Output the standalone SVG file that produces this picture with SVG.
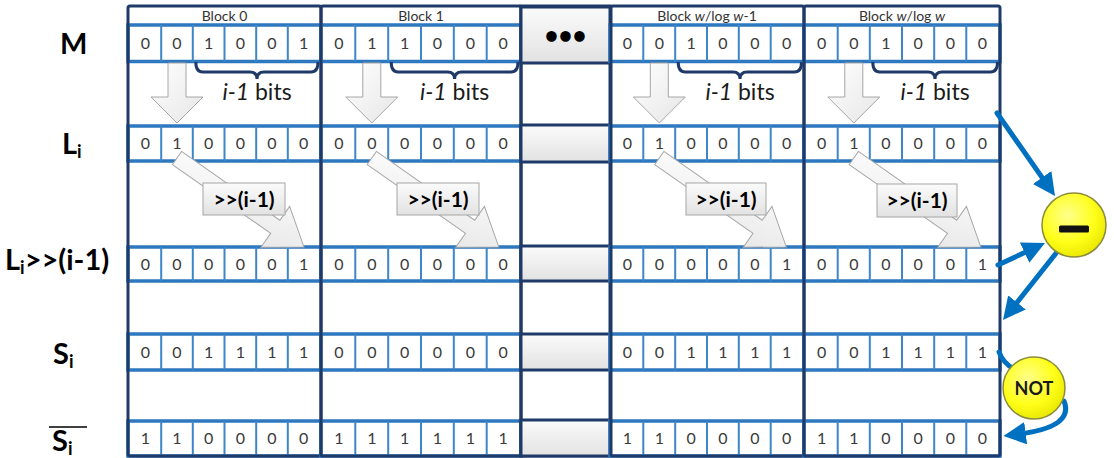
<svg xmlns="http://www.w3.org/2000/svg" xmlns:xlink="http://www.w3.org/1999/xlink" width="1114" height="458" viewBox="0 0 1114 458">
<defs>
<linearGradient id="gGray" x1="0" y1="0" x2="0" y2="1"><stop offset="0" stop-color="#fbfbfb"/><stop offset="1" stop-color="#e2e2e2"/></linearGradient>
<linearGradient id="gArrow" x1="0" y1="0" x2="1" y2="1"><stop offset="0" stop-color="#ffffff"/><stop offset="1" stop-color="#e6e6e6"/></linearGradient>
<radialGradient id="gYel" cx="0.4" cy="0.35" r="0.7"><stop offset="0" stop-color="#ffff8c"/><stop offset="0.6" stop-color="#ffff1a"/><stop offset="1" stop-color="#e6e600"/></radialGradient>
<marker id="ah" viewBox="0 0 10 10" refX="3" refY="5" markerWidth="4.5" markerHeight="4.5" orient="auto"><path d="M0 0L10 5L0 10Z" fill="#0070c0"/></marker>
<path id="down" d="M-9 0H9V34H26L0 60L-26 34H-9Z"/>
<path id="diag" d="M0 -8H120V-25L155 0L120 25V8H0Z"/>
<style>
.frame{fill:none;stroke:#1f3a68;stroke-width:3}
.row{fill:#fff;stroke:#2e78c0;stroke-width:3.5}
.sep{fill:none;stroke:#3d86c8;stroke-width:2;stroke-dasharray:36.5 64.5 35 86 34 53 36 51 35 100}
.mid{fill:url(#gGray);stroke:#1f3a68;stroke-width:3}
.d{font-family:Lato,"Open Sans",sans-serif;font-size:16px;fill:#3a3a3a;text-anchor:middle}
.hd{font-family:Lato,"Open Sans",sans-serif;font-size:14px;fill:#333;text-anchor:middle}
.lab{font-family:Lato,"Open Sans",sans-serif;font-weight:bold;font-size:29px;fill:#000}
.sub{font-size:18px}
.bits{font-family:Lato,"Open Sans",sans-serif;font-size:23px;fill:#1a1a1a;text-anchor:middle}
.brace{fill:none;stroke:#1f3a68;stroke-width:3}
.ga{fill:url(#gArrow);stroke:#a6a6a6;stroke-width:1}
.box{fill:url(#gGray);stroke:#a6a6a6;stroke-width:1}
.bt{font-family:Lato,"Open Sans",sans-serif;font-weight:bold;font-size:21px;fill:#000;text-anchor:middle}
.con{fill:none;stroke:#0070c0;stroke-width:5;stroke-linecap:round;marker-end:url(#ah)}
.con2{fill:none;stroke:#0070c0;stroke-width:5;stroke-linecap:round}
.op{fill:url(#gYel);stroke:#8c8c3c;stroke-width:1.5}
.opt{font-family:Lato,"Open Sans",sans-serif;font-weight:bold;font-size:18px;fill:#1a1a1a;text-anchor:middle}
</style>
</defs>
<rect width="1114" height="458" fill="#fff"/>

<g id="row-labels">
<text class="lab" x="60" y="54">M</text>
<text class="lab" x="62" y="154">L<tspan class="sub" dy="4">i</tspan></text>
<text class="lab" x="5" y="270">L<tspan class="sub" dy="4">i</tspan><tspan dy="-4">&gt;&gt;(i-1)</tspan></text>
<text class="lab" x="53" y="364">S<tspan class="sub" dy="4">i</tspan></text>
<text class="lab" x="52" y="451">S<tspan class="sub" dy="4">i</tspan></text>
<line x1="49" y1="427" x2="87" y2="427" stroke="#000" stroke-width="1.5"/>
</g>

<g id="block-0">
<text class="hd" x="224.5" y="20.5">Block 0</text>
<rect class="row" x="128" y="25" width="193" height="36.5"/>
<rect class="row" x="128" y="126" width="193" height="35"/>
<rect class="row" x="128" y="247" width="193" height="34"/>
<rect class="row" x="128" y="334" width="193" height="36"/>
<rect class="row" x="128" y="421" width="193" height="35"/>
<path class="sep" d="M161.2 25V456M192.8 25V456M224.5 25V456M256.2 25V456M287.8 25V456"/>
<text class="d" x="145.3" y="49">0</text><text class="d" x="177" y="49">0</text><text class="d" x="208.7" y="49">1</text><text class="d" x="240.3" y="49">0</text><text class="d" x="272" y="49">0</text><text class="d" x="303.7" y="49">1</text>
<text class="d" x="145.3" y="149">0</text><text class="d" x="177" y="149">1</text><text class="d" x="208.7" y="149">0</text><text class="d" x="240.3" y="149">0</text><text class="d" x="272" y="149">0</text><text class="d" x="303.7" y="149">0</text>
<text class="d" x="145.3" y="269.5">0</text><text class="d" x="177" y="269.5">0</text><text class="d" x="208.7" y="269.5">0</text><text class="d" x="240.3" y="269.5">0</text><text class="d" x="272" y="269.5">0</text><text class="d" x="303.7" y="269.5">1</text>
<text class="d" x="145.3" y="357.5">0</text><text class="d" x="177" y="357.5">0</text><text class="d" x="208.7" y="357.5">1</text><text class="d" x="240.3" y="357.5">1</text><text class="d" x="272" y="357.5">1</text><text class="d" x="303.7" y="357.5">1</text>
<text class="d" x="145.3" y="444">1</text><text class="d" x="177" y="444">1</text><text class="d" x="208.7" y="444">0</text><text class="d" x="240.3" y="444">0</text><text class="d" x="272" y="444">0</text><text class="d" x="303.7" y="444">0</text>
<rect class="frame" x="128" y="6" width="193" height="450" rx="2"/>
<use href="#down" class="ga" x="177" y="63"/>
<path class="brace" d="M195.8 62Q195.8 72 202.8 72H250Q257 72 257 79Q257 72 264 72H311Q318 72 318 62"/>
<text class="bits" x="257" y="100"><tspan font-style="italic">i-1</tspan> bits</text>
<use href="#diag" class="ga" transform="translate(177 158) rotate(35)"/>
<rect class="box" x="203" y="183" width="82" height="32"/>
<text class="bt" x="244" y="206.5">&gt;&gt;(i-1)</text>
</g>

<g id="block-1">
<text class="hd" x="421" y="20.5">Block 1</text>
<rect class="row" x="321" y="25" width="200" height="36.5"/>
<rect class="row" x="321" y="126" width="200" height="35"/>
<rect class="row" x="321" y="247" width="200" height="34"/>
<rect class="row" x="321" y="334" width="200" height="36"/>
<rect class="row" x="321" y="421" width="200" height="35"/>
<path class="sep" d="M355.3 25V456M388.2 25V456M421 25V456M453.8 25V456M486.7 25V456"/>
<text class="d" x="338.9" y="49">0</text><text class="d" x="371.8" y="49">1</text><text class="d" x="404.6" y="49">1</text><text class="d" x="437.4" y="49">0</text><text class="d" x="470.3" y="49">0</text><text class="d" x="503.1" y="49">0</text>
<text class="d" x="338.9" y="149">0</text><text class="d" x="371.8" y="149">0</text><text class="d" x="404.6" y="149">0</text><text class="d" x="437.4" y="149">0</text><text class="d" x="470.3" y="149">0</text><text class="d" x="503.1" y="149">0</text>
<text class="d" x="338.9" y="269.5">0</text><text class="d" x="371.8" y="269.5">0</text><text class="d" x="404.6" y="269.5">0</text><text class="d" x="437.4" y="269.5">0</text><text class="d" x="470.3" y="269.5">0</text><text class="d" x="503.1" y="269.5">0</text>
<text class="d" x="338.9" y="357.5">0</text><text class="d" x="371.8" y="357.5">0</text><text class="d" x="404.6" y="357.5">0</text><text class="d" x="437.4" y="357.5">0</text><text class="d" x="470.3" y="357.5">0</text><text class="d" x="503.1" y="357.5">0</text>
<text class="d" x="338.9" y="444">1</text><text class="d" x="371.8" y="444">1</text><text class="d" x="404.6" y="444">1</text><text class="d" x="437.4" y="444">1</text><text class="d" x="470.3" y="444">1</text><text class="d" x="503.1" y="444">1</text>
<rect class="frame" x="321" y="6" width="200" height="450" rx="2"/>
<use href="#down" class="ga" x="371.8" y="63"/>
<path class="brace" d="M391.2 62Q391.2 72 398.2 72H447.6Q454.6 72 454.6 79Q454.6 72 461.6 72H511Q518 72 518 62"/>
<text class="bits" x="454.6" y="100"><tspan font-style="italic">i-1</tspan> bits</text>
<use href="#diag" class="ga" transform="translate(371.8 158) rotate(35)"/>
<rect class="box" x="397" y="183" width="82" height="32"/>
<text class="bt" x="438" y="206.5">&gt;&gt;(i-1)</text>
</g>

<g id="block-ellipsis">
<rect class="frame" x="521" y="6" width="89" height="450"/>
<rect class="mid" x="521" y="7" width="89" height="56"/>
<text x="565.5" y="44" font-family="Lato, 'Open Sans', sans-serif" font-weight="bold" font-size="24" text-anchor="middle" fill="#000">•••</text>
<rect class="mid" x="521" y="125" width="89" height="37"/>
<rect class="mid" x="521" y="246" width="89" height="35"/>
<rect class="mid" x="521" y="334" width="89" height="36"/>
<rect class="mid" x="521" y="420" width="89" height="36"/>
</g>

<g id="block-w-1">
<text class="hd" x="707" y="20.5">Block <tspan font-style="italic">w</tspan>/log <tspan font-style="italic">w</tspan>-1</text>
<rect class="row" x="610" y="25" width="194" height="36.5"/>
<rect class="row" x="610" y="126" width="194" height="35"/>
<rect class="row" x="610" y="247" width="194" height="34"/>
<rect class="row" x="610" y="334" width="194" height="36"/>
<rect class="row" x="610" y="421" width="194" height="35"/>
<path class="sep" d="M643.3 25V456M675.2 25V456M707 25V456M738.8 25V456M770.7 25V456"/>
<text class="d" x="627.4" y="49">0</text><text class="d" x="659.3" y="49">0</text><text class="d" x="691.1" y="49">1</text><text class="d" x="722.9" y="49">0</text><text class="d" x="754.8" y="49">0</text><text class="d" x="786.6" y="49">0</text>
<text class="d" x="627.4" y="149">0</text><text class="d" x="659.3" y="149">1</text><text class="d" x="691.1" y="149">0</text><text class="d" x="722.9" y="149">0</text><text class="d" x="754.8" y="149">0</text><text class="d" x="786.6" y="149">0</text>
<text class="d" x="627.4" y="269.5">0</text><text class="d" x="659.3" y="269.5">0</text><text class="d" x="691.1" y="269.5">0</text><text class="d" x="722.9" y="269.5">0</text><text class="d" x="754.8" y="269.5">0</text><text class="d" x="786.6" y="269.5">1</text>
<text class="d" x="627.4" y="357.5">0</text><text class="d" x="659.3" y="357.5">0</text><text class="d" x="691.1" y="357.5">1</text><text class="d" x="722.9" y="357.5">1</text><text class="d" x="754.8" y="357.5">1</text><text class="d" x="786.6" y="357.5">1</text>
<text class="d" x="627.4" y="444">1</text><text class="d" x="659.3" y="444">1</text><text class="d" x="691.1" y="444">0</text><text class="d" x="722.9" y="444">0</text><text class="d" x="754.8" y="444">0</text><text class="d" x="786.6" y="444">0</text>
<rect class="frame" x="611" y="6" width="193" height="450" rx="2"/>
<use href="#down" class="ga" x="659.3" y="63"/>
<path class="brace" d="M678.2 62Q678.2 72 685.2 72H733Q740 72 740 79Q740 72 747 72H794.5Q801.5 72 801.5 62"/>
<text class="bits" x="740" y="100"><tspan font-style="italic">i-1</tspan> bits</text>
<use href="#diag" class="ga" transform="translate(659.3 158) rotate(35)"/>
<rect class="box" x="686" y="183" width="80" height="32"/>
<text class="bt" x="726" y="206.5">&gt;&gt;(i-1)</text>
</g>

<g id="block-w">
<text class="hd" x="902" y="20.5">Block <tspan font-style="italic">w</tspan>/log <tspan font-style="italic">w</tspan></text>
<rect class="row" x="804" y="25" width="196" height="36.5"/>
<rect class="row" x="804" y="126" width="196" height="35"/>
<rect class="row" x="804" y="247" width="196" height="34"/>
<rect class="row" x="804" y="334" width="196" height="36"/>
<rect class="row" x="804" y="421" width="196" height="35"/>
<path class="sep" d="M837.7 25V456M869.8 25V456M902 25V456M934.2 25V456M966.3 25V456"/>
<text class="d" x="821.6" y="49">0</text><text class="d" x="853.8" y="49">0</text><text class="d" x="885.9" y="49">1</text><text class="d" x="918.1" y="49">0</text><text class="d" x="950.3" y="49">0</text><text class="d" x="982.4" y="49">0</text>
<text class="d" x="821.6" y="149">0</text><text class="d" x="853.8" y="149">1</text><text class="d" x="885.9" y="149">0</text><text class="d" x="918.1" y="149">0</text><text class="d" x="950.3" y="149">0</text><text class="d" x="982.4" y="149">0</text>
<text class="d" x="821.6" y="269.5">0</text><text class="d" x="853.8" y="269.5">0</text><text class="d" x="885.9" y="269.5">0</text><text class="d" x="918.1" y="269.5">0</text><text class="d" x="950.3" y="269.5">0</text><text class="d" x="982.4" y="269.5">1</text>
<text class="d" x="821.6" y="357.5">0</text><text class="d" x="853.8" y="357.5">0</text><text class="d" x="885.9" y="357.5">1</text><text class="d" x="918.1" y="357.5">1</text><text class="d" x="950.3" y="357.5">1</text><text class="d" x="982.4" y="357.5">1</text>
<text class="d" x="821.6" y="444">1</text><text class="d" x="853.8" y="444">1</text><text class="d" x="885.9" y="444">0</text><text class="d" x="918.1" y="444">0</text><text class="d" x="950.3" y="444">0</text><text class="d" x="982.4" y="444">0</text>
<rect class="frame" x="804" y="6" width="196" height="450" rx="2"/>
<use href="#down" class="ga" x="853.8" y="63"/>
<path class="brace" d="M872.8 62Q872.8 72 879.8 72H928Q935 72 935 79Q935 72 942 72H990.5Q997.5 72 997.5 62"/>
<text class="bits" x="935" y="100"><tspan font-style="italic">i-1</tspan> bits</text>
<use href="#diag" class="ga" transform="translate(853.8 158) rotate(35)"/>
<rect class="box" x="877" y="184" width="80" height="33"/>
<text class="bt" x="917" y="207.5">&gt;&gt;(i-1)</text>
</g>

<g id="connectors">
<path class="con" d="M997 113L1046 183.1"/>
<path class="con" d="M998 265L1030.7 249.7"/>
<path class="con" d="M1057 252L1012.8 307.7"/>
<path class="con2" d="M999 352Q1003 363 1014 369"/>
<path class="con" d="M1064 401C1072 421 1050 430 1019 434"/>
</g>

<g id="op-minus">
<circle class="op" cx="1074" cy="225" r="32"/>
<rect x="1059" y="225.5" width="30" height="7" rx="1.5" fill="#111"/>
</g>

<g id="op-not">
<circle class="op" cx="1034" cy="388" r="31"/>
<text class="opt" x="1034" y="394.5">NOT</text>
</g>
</svg>
